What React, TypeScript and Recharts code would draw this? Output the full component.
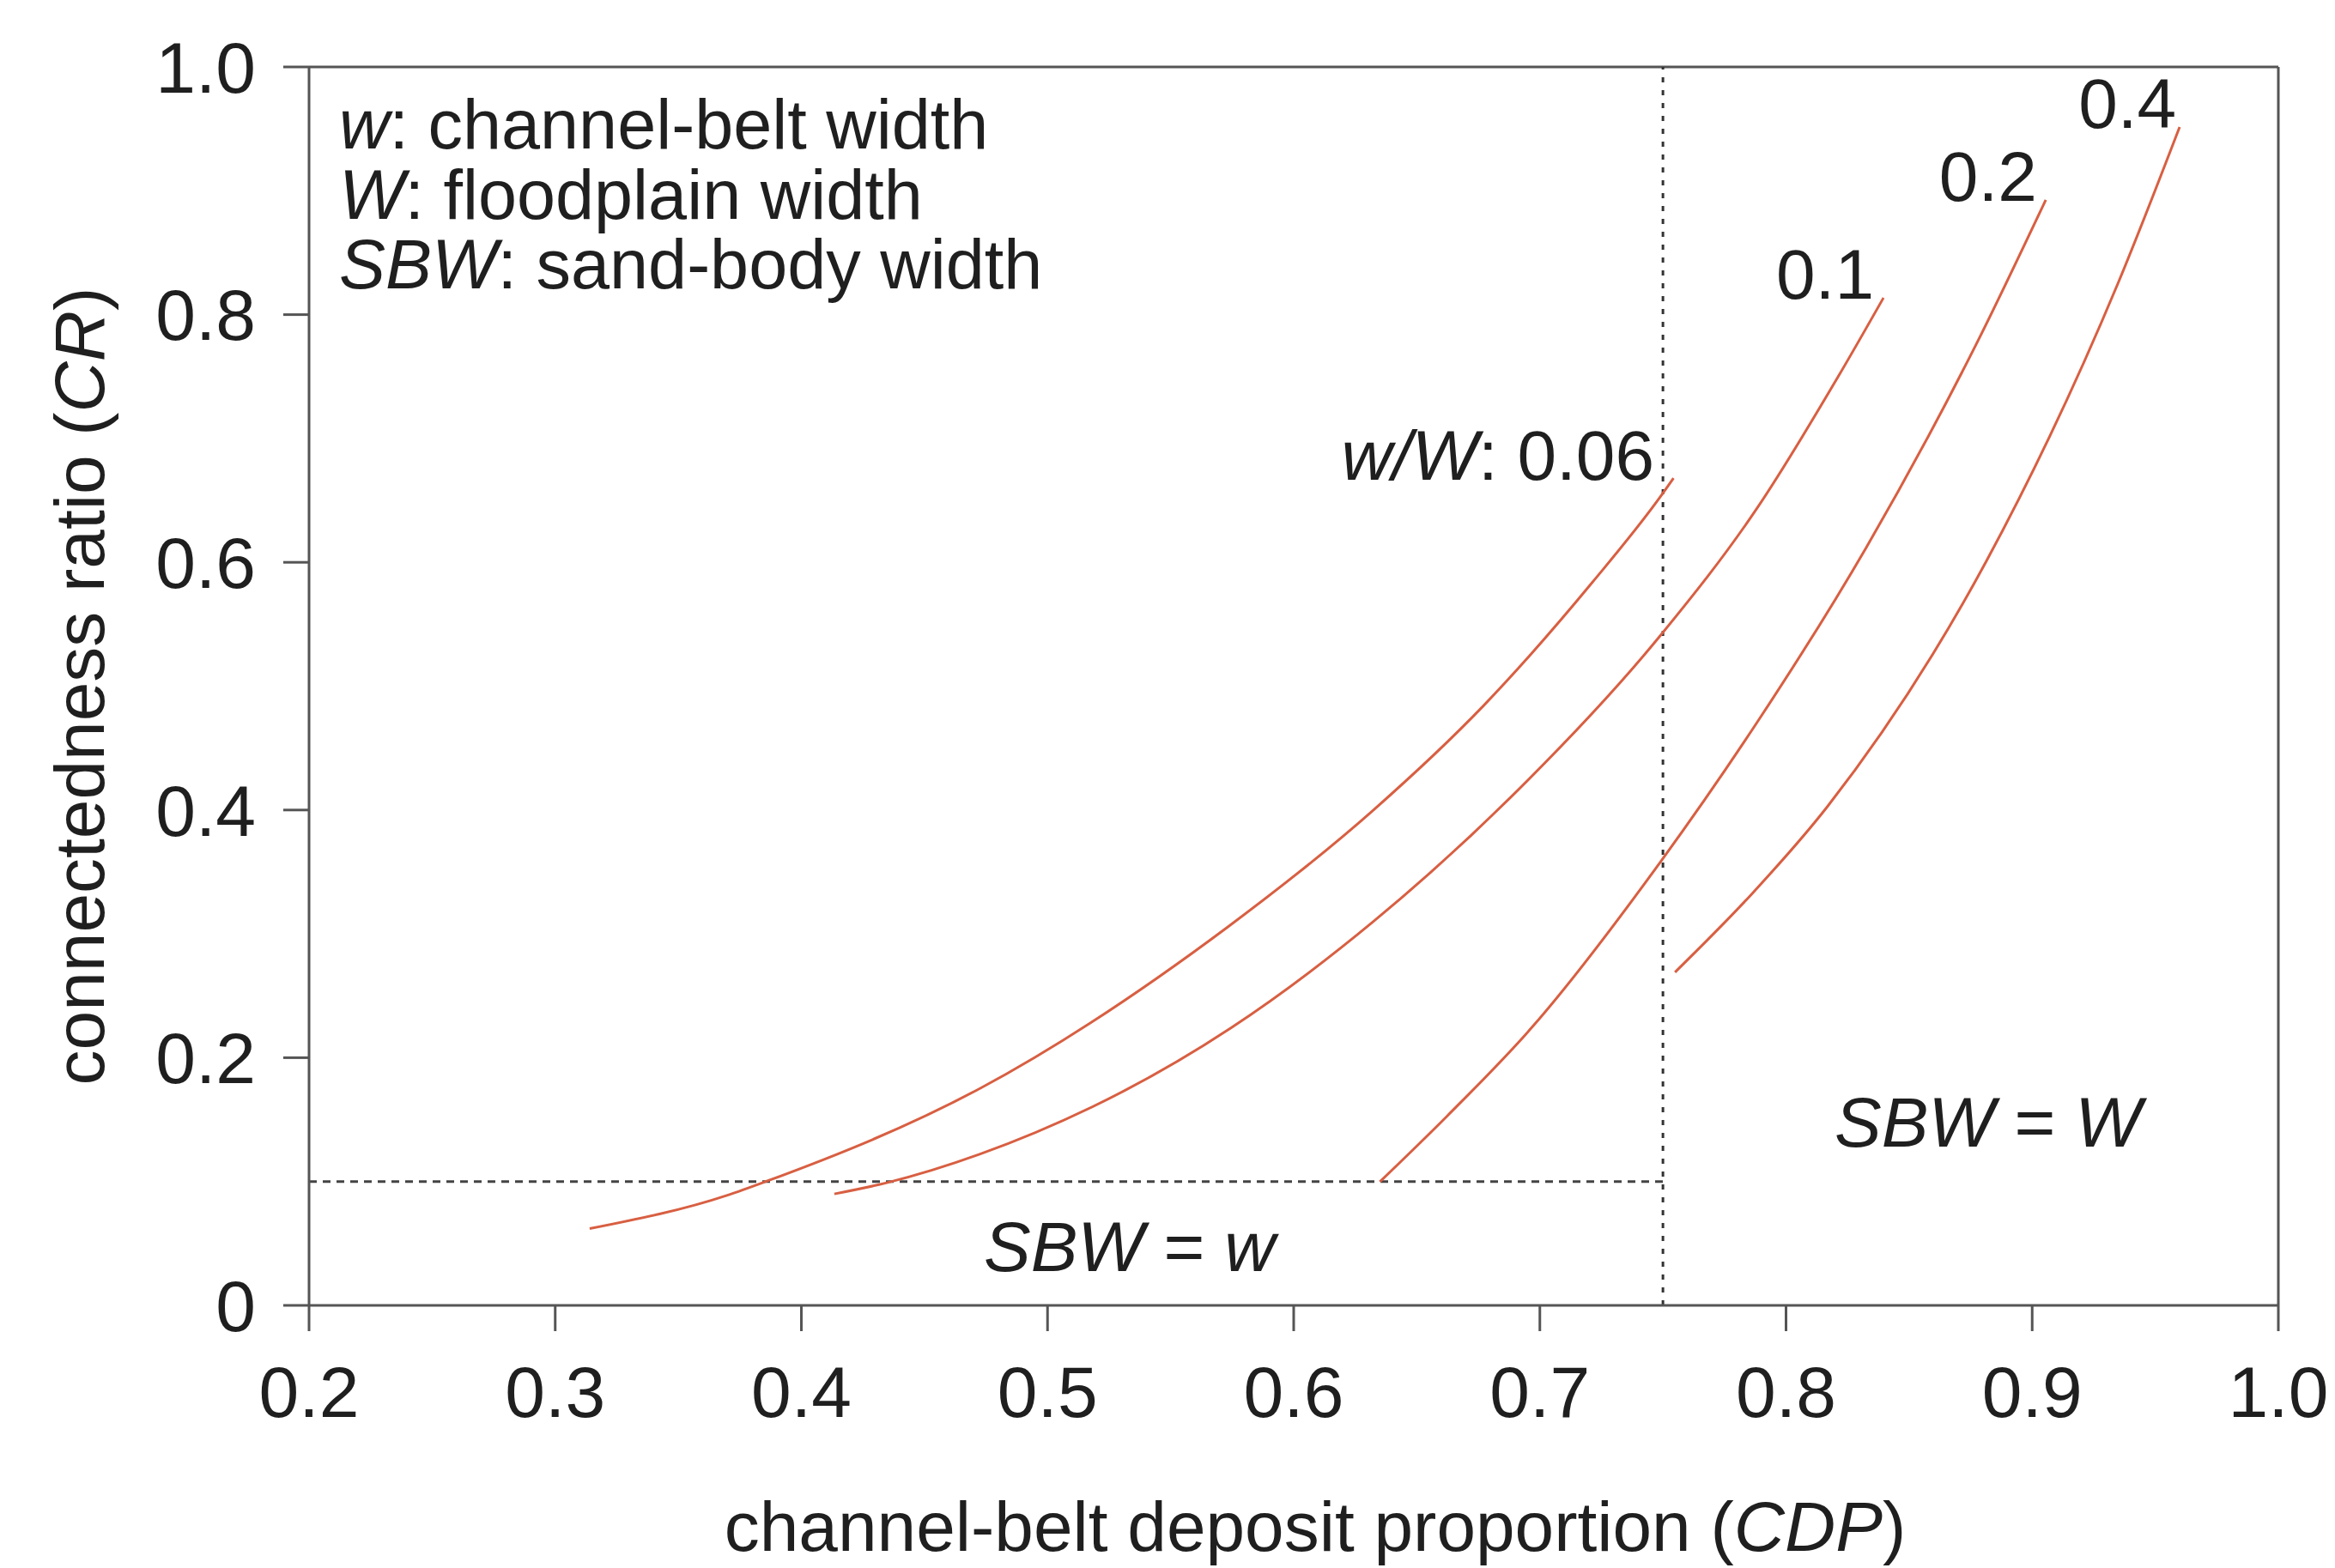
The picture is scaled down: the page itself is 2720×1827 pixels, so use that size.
import React from 'react';
import { LineChart, Line, XAxis, YAxis, ReferenceLine, ReferenceDot } from 'recharts';

// ---- data ----
const xTicks = [0.2, 0.3, 0.4, 0.5, 0.6, 0.7, 0.8, 0.9, 1.0];
const yTicks = [0, 0.2, 0.4, 0.6, 0.8, 1.0];

const cdp006 = [0.314, 0.37, 0.3855, 0.4724, 0.5735, 0.6324, 0.677, 0.7214, 0.7486, 0.7543];
const cr006 = [0.062, 0.089, 0.1, 0.175, 0.306, 0.4, 0.484, 0.584, 0.652, 0.668];

const cdp01 = [0.4134, 0.4347, 0.4724, 0.5745, 0.6324, 0.688, 0.7486, 0.788, 0.8215, 0.8396];
const cr01 = [0.09, 0.099, 0.122, 0.224, 0.31, 0.41, 0.54, 0.643, 0.751, 0.8136];

const cdp02 = [0.635, 0.6624, 0.697, 0.7486, 0.788, 0.8326, 0.877, 0.9055];
const cr02 = [0.0998, 0.153, 0.225, 0.357, 0.47, 0.612, 0.775, 0.8926];

const cdp04 = [0.7549, 0.786, 0.8169, 0.8814, 0.9348, 0.9599];
const cr04 = [0.269, 0.332, 0.403, 0.601, 0.825, 0.9515];

const thresholdCDP = 0.75;
const thresholdCR = 0.1;

const toPts = (xs: number[], ys: number[]) => xs.map((x, i) => ({ x, y: ys[i] }));
const series = [
  { name: '0.06', data: toPts(cdp006, cr006) },
  { name: '0.1', data: toPts(cdp01, cr01) },
  { name: '0.2', data: toPts(cdp02, cr02) },
  { name: '0.4', data: toPts(cdp04, cr04) },
];

type Part = { t: string; i?: boolean };
type Annot = { x: number; y: number; anchor: 'start' | 'end' | 'middle'; size: number; parts: Part[] };

const annotations: Annot[] = [
  { x: 0.2122, y: 0.934, anchor: 'start', size: 81, parts: [{ t: 'w', i: true }, { t: ': channel-belt width' }] },
  { x: 0.2122, y: 0.877, anchor: 'start', size: 81, parts: [{ t: 'W', i: true }, { t: ': floodplain width' }] },
  { x: 0.2122, y: 0.821, anchor: 'start', size: 81, parts: [{ t: 'SBW', i: true }, { t: ': sand-body width' }] },
  { x: 0.7465, y: 0.667, anchor: 'end', size: 82, parts: [{ t: 'w/W', i: true }, { t: ': 0.06' }] },
  { x: 0.796, y: 0.813, anchor: 'start', size: 82, parts: [{ t: '0.1' }] },
  { x: 0.8622, y: 0.892, anchor: 'start', size: 82, parts: [{ t: '0.2' }] },
  { x: 0.9188, y: 0.9508, anchor: 'start', size: 82, parts: [{ t: '0.4' }] },
  { x: 0.8197, y: 0.128, anchor: 'start', size: 82, parts: [{ t: 'SBW', i: true }, { t: ' = ' }, { t: 'W', i: true }] },
  { x: 0.4741, y: 0.0277, anchor: 'start', size: 82, parts: [{ t: 'SBW', i: true }, { t: ' = ' }, { t: 'w', i: true }] },
];

const FONT = '"Liberation Sans", Arial, Helvetica, sans-serif';
const TEXT = '#1f1f1f';
const AXIS = '#555555';
const CURVE = '#d85f42';

const renderParts = (parts: Part[]) =>
  parts.map((p, k) => (
    <tspan key={k} fontStyle={p.i ? 'italic' : 'normal'}>
      {p.t.replace(/ /g, '\u00a0')}
    </tspan>
  ));

export default function App() {
  return (
    <div style={{ position: 'absolute', left: 0, top: 0, width: 2720, height: 1827, background: '#ffffff' }}>
      <LineChart width={2720} height={1827} margin={{ top: 78, right: 66, bottom: 0, left: 0 }}>
        <XAxis
          type="number"
          dataKey="x"
          domain={[0.2, 1.0]}
          ticks={xTicks}
          allowDataOverflow
          height={306}
          tickSize={30}
          tickMargin={40}
          tickFormatter={(v: number) => v.toFixed(1)}
          axisLine={{ stroke: AXIS, strokeWidth: 3 }}
          tickLine={{ stroke: AXIS, strokeWidth: 3 }}
          tick={{ fill: TEXT, fontSize: 84, fontFamily: FONT }}
          label={{
            content: (props: any) => {
              const vb = props.viewBox || { x: 360, y: 1521, width: 2294, height: 306 };
              return (
                <text
                  x={vb.x + vb.width / 2 + 25}
                  y={vb.y + 286}
                  textAnchor="middle"
                  fill={TEXT}
                  fontSize={82}
                  fontFamily={FONT}
                >
                  {renderParts([{ t: 'channel-belt deposit proportion (' }, { t: 'CDP', i: true }, { t: ')' }])}
                </text>
              );
            },
          }}
        />
        <YAxis
          type="number"
          domain={[0, 1.0]}
          ticks={yTicks}
          allowDataOverflow
          width={360}
          tickSize={30}
          tickMargin={32}
          tickFormatter={(v: number) => (v === 0 ? '0' : v.toFixed(1))}
          axisLine={{ stroke: AXIS, strokeWidth: 3 }}
          tickLine={{ stroke: AXIS, strokeWidth: 3 }}
          tick={{ fill: TEXT, fontSize: 84, fontFamily: FONT }}
          label={{
            content: (props: any) => {
              const vb = props.viewBox || { x: 0, y: 78, width: 360, height: 1443 };
              const cx = vb.x + 121;
              const cy = vb.y + vb.height / 2;
              return (
                <text
                  x={cx}
                  y={cy}
                  transform={`rotate(-90 ${cx} ${cy})`}
                  textAnchor="middle"
                  fill={TEXT}
                  fontSize={82}
                  fontFamily={FONT}
                >
                  {renderParts([{ t: 'connectedness ratio (' }, { t: 'CR', i: true }, { t: ')' }])}
                </text>
              );
            },
          }}
        />
        <ReferenceLine y={1.0} stroke={AXIS} strokeWidth={3} ifOverflow="visible" />
        <ReferenceLine x={1.0} stroke={AXIS} strokeWidth={3} ifOverflow="visible" />
        <ReferenceLine x={thresholdCDP} stroke="#333333" strokeWidth={3} strokeDasharray="6 9" />
        <ReferenceLine
          segment={[
            { x: 0.2, y: thresholdCR },
            { x: thresholdCDP, y: thresholdCR },
          ]}
          stroke="#444444"
          strokeWidth={3}
          strokeDasharray="9 7"
        />
        {series.map((s) => (
          <Line
            key={s.name}
            data={s.data}
            dataKey="y"
            type="monotone"
            stroke={CURVE}
            strokeWidth={3}
            dot={false}
            activeDot={false}
            isAnimationActive={false}
          />
        ))}
        {annotations.map((a, idx) => (
          <ReferenceDot
            key={`a${idx}`}
            x={a.x}
            y={a.y}
            r={1}
            fill="none"
            stroke="none"
            ifOverflow="visible"
            label={{
              content: (props: any) => {
                const vb = props.viewBox || { x: 0, y: 0, width: 0, height: 0 };
                const cx = vb.x + (vb.width || 0) / 2;
                const cy = vb.y + (vb.height || 0) / 2;
                return (
                  <text x={cx} y={cy} textAnchor={a.anchor} fill={TEXT} fontSize={a.size} fontFamily={FONT}>
                    {renderParts(a.parts)}
                  </text>
                );
              },
            }}
          />
        ))}
      </LineChart>
    </div>
  );
}
